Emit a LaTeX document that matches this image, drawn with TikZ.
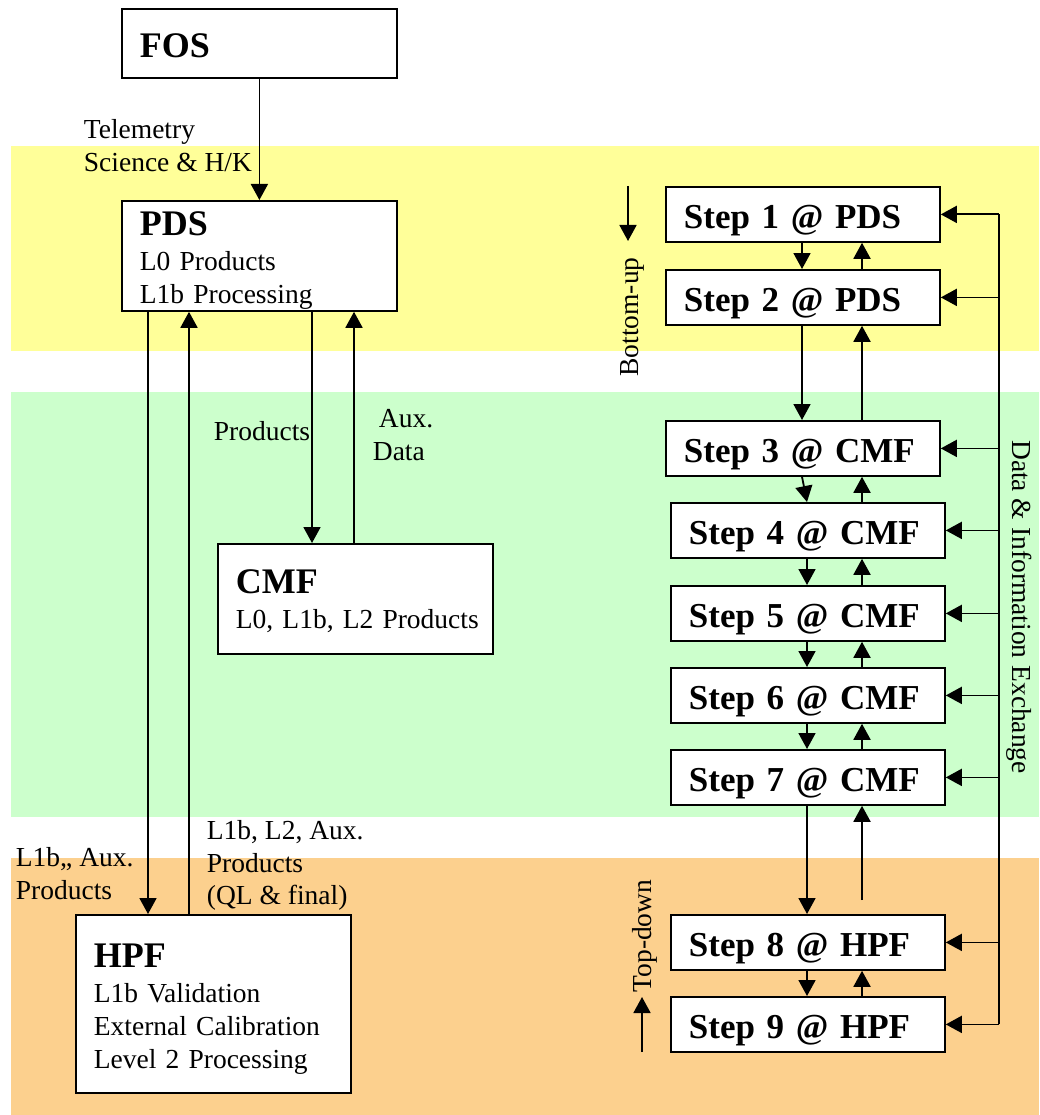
\documentclass[tikz,border=0pt]{standalone}
\usepackage{fontspec}
\setmainfont{Liberation Serif}
\usetikzlibrary{arrows.meta}
\definecolor{bandyellow}{RGB}{255,255,153}
\definecolor{bandgreen}{RGB}{204,255,204}
\definecolor{bandorange}{RGB}{252,208,142}
\newcommand{\regfont}{\fontsize{27.5}{33}\selectfont}
\newcommand{\titlefont}{\fontsize{36}{36}\selectfont\bfseries}
\newcommand{\stepfont}{\fontsize{35}{35}\selectfont\bfseries}
\newcommand{\tstrut}[1]{\rule{0pt}{#1}}
\begin{document}
\begin{tikzpicture}[x=1pt,y=-1pt,
  line width=1.8pt,
  arr/.style={-{Triangle[width=17pt,length=16pt]}, line width=1.8pt},
  bigbox/.style={draw, fill=white, line width=1.8pt, anchor=north west, align=left,
    inner xsep=18pt, inner ysep=0pt, font=\regfont, text width=239pt},
  stepbox/.style={draw, fill=white, line width=1.8pt, anchor=north west,
    minimum width=274pt, minimum height=55pt, text width=238pt, inner xsep=18pt,
    inner ysep=0pt, align=left, font=\stepfont, text height=29pt, text depth=0pt},
  lbl/.style={anchor=base west, font=\regfont, inner sep=0pt},
  rlbl/.style={anchor=base, font=\regfont, inner sep=0pt},
]
\useasboundingbox (0,0) rectangle (1039,1115);
% bands
\fill[bandyellow] (11,146) rectangle (1039,351);
\fill[bandgreen] (11,392) rectangle (1039,817);
\fill[bandorange] (11,858) rectangle (1039,1115);

% left boxes
\node[bigbox, minimum height=69pt] (fos) at (121,8) {\tstrut{29pt}\titlefont FOS};
\node[bigbox, minimum height=110pt] (pds) at (121,200)
  {{\tstrut{34pt}\titlefont PDS}\\[2pt]L0 Products\\L1b Processing};
\node[bigbox, minimum height=110pt] (cmf) at (217,543)
  {{\tstrut{29pt}\titlefont CMF}\\[2pt]\mbox{L0, L1b, L2 Products}};
\node[bigbox, minimum height=178pt] (hpf) at (75,914)
  {{\tstrut{34pt}\titlefont HPF}\\[2pt]L1b Validation\\External Calibration\\Level 2 Processing};

% step boxes
\node[stepbox] (s1) at (665,186) {Step 1 @ PDS};
\node[stepbox] (s2) at (665,269) {Step 2 @ PDS};
\node[stepbox] (s3) at (665,420) {Step 3 @ CMF};
\node[stepbox] (s4) at (670,502) {Step 4 @ CMF};
\node[stepbox] (s5) at (670,585) {Step 5 @ CMF};
\node[stepbox] (s6) at (670,667) {Step 6 @ CMF};
\node[stepbox] (s7) at (670,749) {Step 7 @ CMF};
\node[stepbox] (s8) at (670,914) {Step 8 @ HPF};
\node[stepbox] (s9) at (670,996) {Step 9 @ HPF};

% column coordinates
\coordinate (dA) at (802,0);
\coordinate (dB) at (807,0);
\coordinate (uA) at (862,0);
\coordinate (bus) at (999,0);
\coordinate (c1) at (148,0);
\coordinate (c2) at (189,0);
\coordinate (c3) at (312,0);
\coordinate (c4) at (354,0);

% left connectors
\draw[arr] (fos.south) -- (pds.north);
\draw[arr] (c1 |- pds.south) -- (c1 |- hpf.north);
\draw[arr] (c2 |- hpf.north) -- (c2 |- pds.south);
\draw[arr] (c3 |- pds.south) -- (c3 |- cmf.north);
\draw[arr] (c4 |- cmf.north) -- (c4 |- pds.south);

% step connectors
\draw[arr] (dA |- s1.south) -- (dA |- s2.north);
\draw[arr] (uA |- s2.north) -- (uA |- s1.south);
\draw[arr] (dA |- s2.south) -- (dA |- s3.north);
\draw[arr] (uA |- s3.north) -- (uA |- s2.south);
\draw[arr] (dA |- s3.south) -- (dB |- s4.north);
\draw[arr] (uA |- s4.north) -- (uA |- s3.south);
\draw[arr] (dB |- s4.south) -- (dB |- s5.north);
\draw[arr] (uA |- s5.north) -- (uA |- s4.south);
\draw[arr] (dB |- s5.south) -- (dB |- s6.north);
\draw[arr] (uA |- s6.north) -- (uA |- s5.south);
\draw[arr] (dB |- s6.south) -- (dB |- s7.north);
\draw[arr] (uA |- s7.north) -- (uA |- s6.south);
\draw[arr] (dB |- s7.south) -- (dB |- s8.north);
\coordinate (u78) at (862,900);
\draw[arr] (u78) -- (uA |- s7.south);
\draw[arr] (dB |- s8.south) -- (dB |- s9.north);
\draw[arr] (uA |- s9.north) -- (uA |- s8.south);

% bus
\draw (bus |- s1.east) -- (bus |- s9.east);
\foreach \s in {s1,s2,s3,s4,s5,s6,s7,s8,s9}
  \draw[arr] (bus |- \s.east) -- (\s.east);

% labels
\node[lbl] (tele) at (83,139) {Telemetry};
\node[lbl] (sci) at (83,172) {Science \& H/K};
\node[lbl] (prodlbl) at (213,440) {Products};
\node[lbl] (aux) at (378,427) {Aux.};
\node[lbl] (data) at (372,460) {Data};
\node[lbl] (l1baux) at (15,866) {L1b,, Aux.};
\node[lbl] (prod2) at (15,899) {Products};
\node[lbl] (l1bl2) at (206,839) {L1b, L2, Aux.};
\node[lbl] (prod3) at (206,872) {Products};
\node[lbl] (qlfinal) at (206,904) {(QL \& final)};

% rotated labels
\node[rlbl, rotate=90] (bu) at (638,317) {Bottom-up};
\node[rlbl, rotate=90] (td) at (651,936) {Top-down};
\node[rlbl, rotate=-90] (die) at (1012,607) {Data \& Information Exchange};
\coordinate (bua) at (628,186);
\coordinate (bub) at (628,241);
\draw[arr] (bua) -- (bub);
\coordinate (tda) at (642,1052);
\coordinate (tdb) at (642,997);
\draw[arr] (tda) -- (tdb);
\end{tikzpicture}
\end{document}
